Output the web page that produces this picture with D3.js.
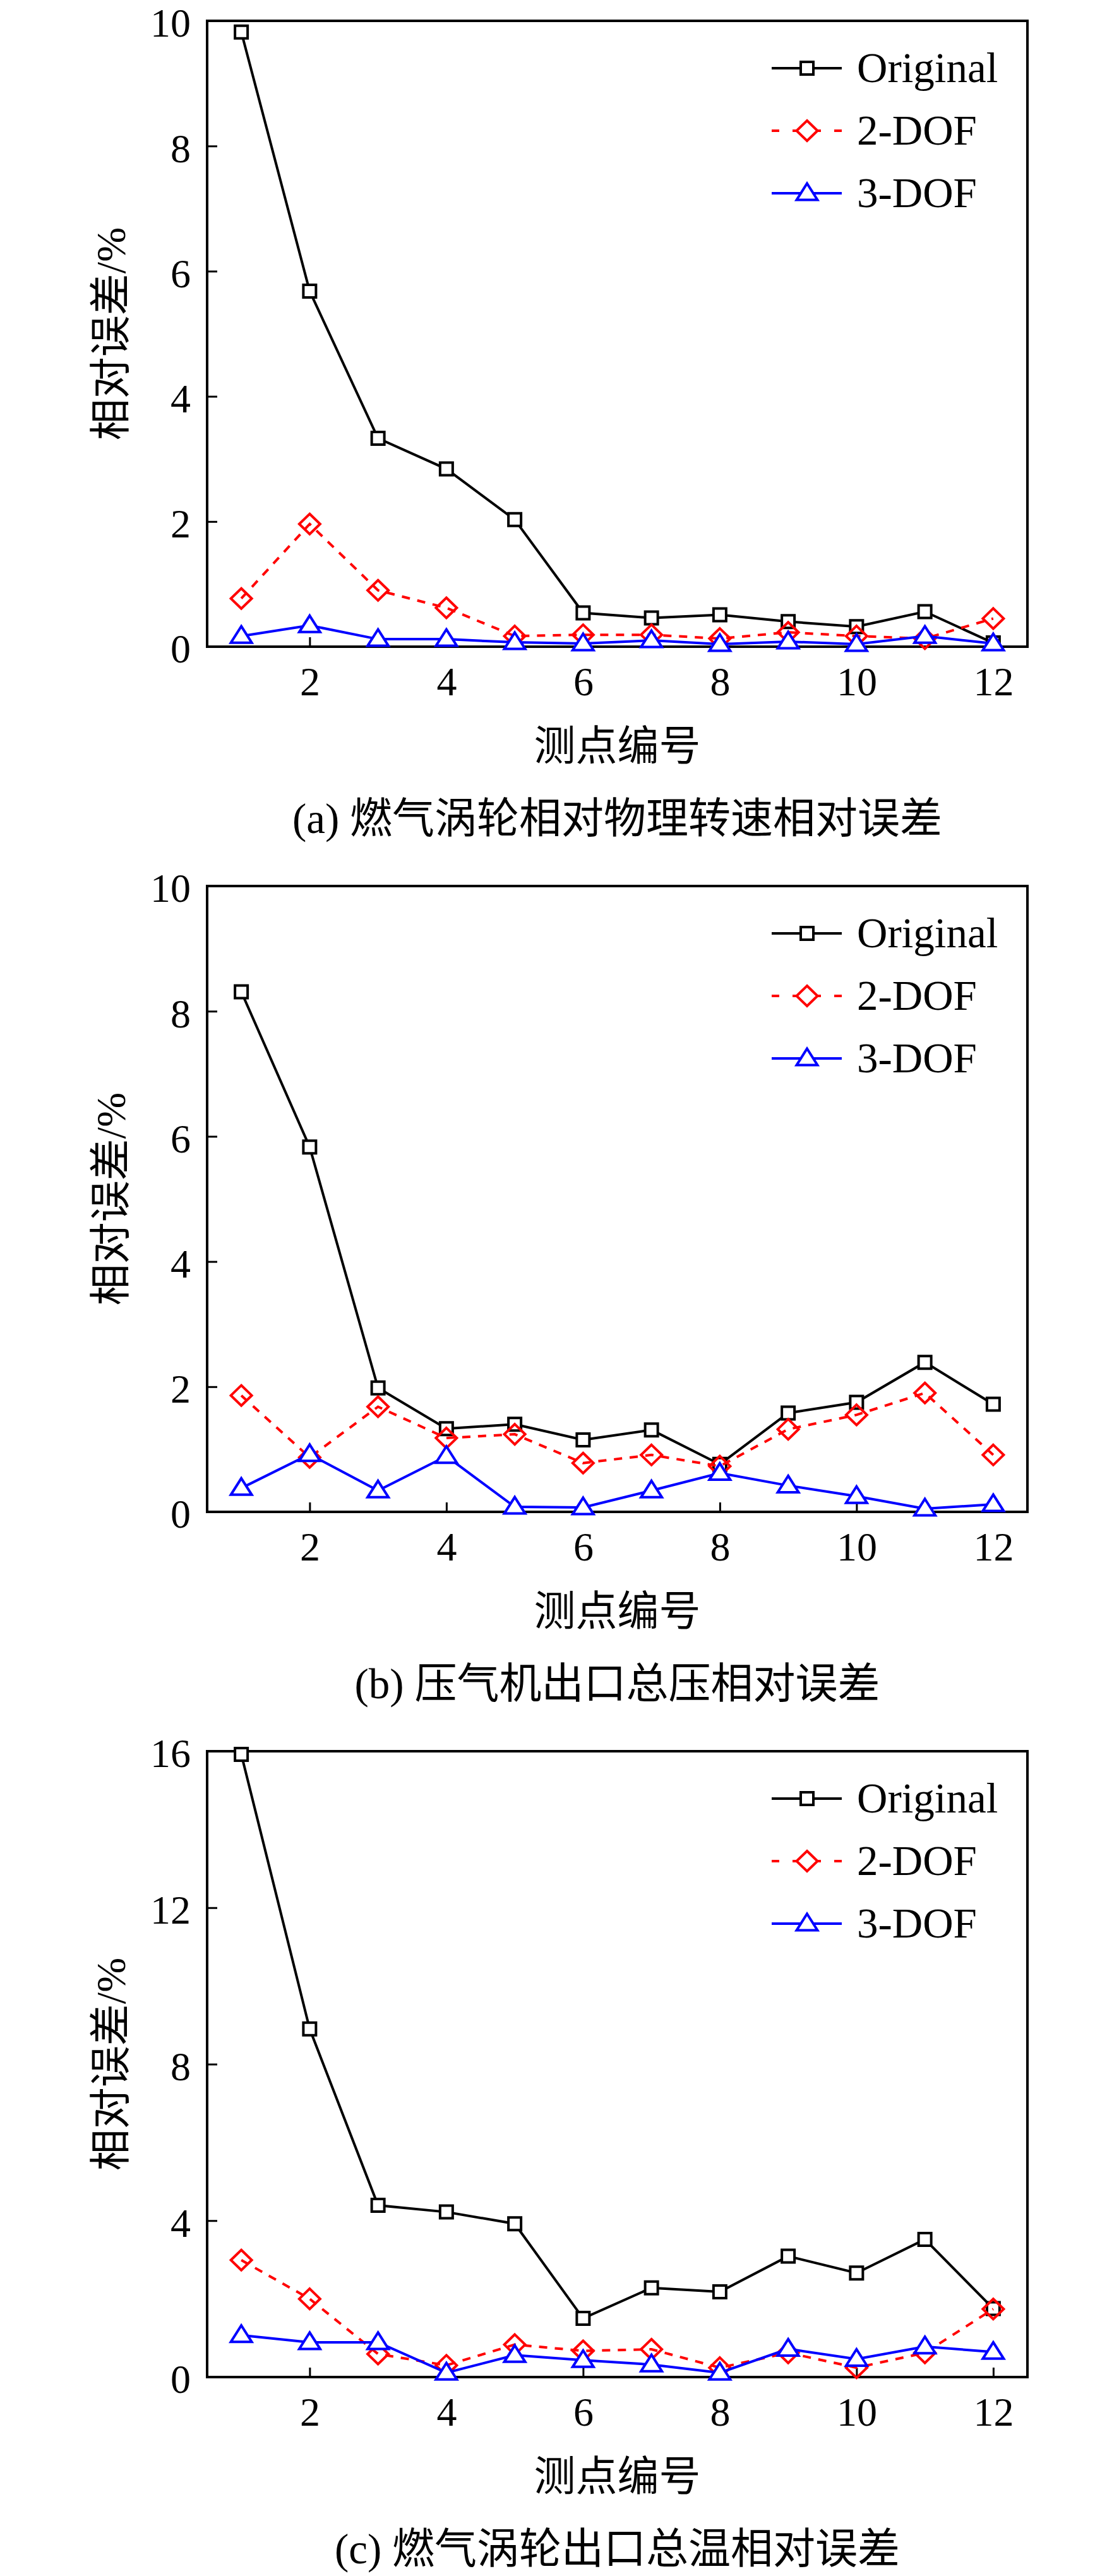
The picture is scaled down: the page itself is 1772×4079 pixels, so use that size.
<!DOCTYPE html>
<html>
<head>
<meta charset="utf-8">
<script src="https://cdn.jsdelivr.net/npm/d3@7"></script>
<style>
  body { margin: 0; background: #fff; }
  svg { display: block; }
</style>
</head>
<body>
<div id="chart"></div>
<script>
// data
const xPoints = [1, 2, 3, 4, 5, 6, 7, 8, 9, 10, 11, 12]
const xTicks = [2, 4, 6, 8, 10, 12]
const seriesNames = ['Original', '2-DOF', '3-DOF']

const origA = [9.82, 5.68, 3.33, 2.84, 2.03, 0.54, 0.46, 0.51, 0.40, 0.32, 0.56, 0.06]
const dof2A = [0.77, 1.96, 0.90, 0.62, 0.17, 0.19, 0.19, 0.13, 0.23, 0.17, 0.13, 0.45]
const dof3A = [0.17, 0.34, 0.12, 0.12, 0.07, 0.05, 0.10, 0.04, 0.08, 0.04, 0.17, 0.05]

const origB = [8.31, 5.83, 1.98, 1.33, 1.40, 1.15, 1.31, 0.76, 1.58, 1.75, 2.39, 1.72]
const dof2B = [1.86, 0.87, 1.68, 1.18, 1.24, 0.78, 0.91, 0.73, 1.32, 1.55, 1.90, 0.91]
const dof3B = [0.38, 0.92, 0.34, 0.89, 0.08, 0.07, 0.34, 0.62, 0.42, 0.25, 0.05, 0.12]

const origC = [15.92, 8.90, 4.39, 4.22, 3.92, 1.50, 2.28, 2.18, 3.09, 2.66, 3.52, 1.75]
const dof2C = [2.99, 2.00, 0.59, 0.30, 0.83, 0.67, 0.71, 0.24, 0.62, 0.24, 0.62, 1.74]
const dof3C = [1.07, 0.89, 0.89, 0.11, 0.56, 0.43, 0.32, 0.11, 0.72, 0.46, 0.78, 0.64]

const yTicksA = [0, 2, 4, 6, 8, 10]
const yTicksB = [0, 2, 4, 6, 8, 10]
const yTicksC = [0, 4, 8, 12, 16]

const captions = ['(a) 燃气涡轮相对物理转速相对误差', '(b) 压气机出口总压相对误差', '(c) 燃气涡轮出口总温相对误差']
const xTitle = '测点编号'
const yTitle = '相对误差/%'

const W = 1772, H = 4079
const numFont = "'Liberation Serif', 'Times New Roman', 'Noto Sans CJK SC', serif"

const svg = d3.select('#chart').append('svg')
    .attr('width', W).attr('height', H)
    .attr('viewBox', `0 0 ${W} ${H}`)

svg.append('rect').attr('width', W).attr('height', H).attr('fill', '#fff')

const panels = [
    {series: [origA, dof2A, dof3A], ticks: yTicksA, caption: captions[0]},
    {series: [origB, dof2B, dof3B], ticks: yTicksB, caption: captions[1]},
    {series: [origC, dof2C, dof3C], ticks: yTicksC, caption: captions[2]}
]

const styles = [
    {color: '#000', dash: null, marker: 'square'},
    {color: '#ff0000', dash: '13,12', marker: 'diamond'},
    {color: '#0000ff', dash: null, marker: 'triangle'}
]

function markerPath(type) {
    if (type == 'square') return 'M-10,-10H10V10H-10Z'
    if (type == 'diamond') return 'M0,-16L16.5,0L0,16L-16.5,0Z'
    return 'M0,-15.5L16.5,10.5H-16.5Z'
}

const left = 328, right = 1627, plotH = 991

panels.forEach((p, i) => {
    const top = 33 + i * 1370
    const bottom = top + plotH
    const yMax = d3.max(p.ticks)

    const x = d3.scaleLinear().domain([0.5, 12.5]).range([left, right])
    const y = d3.scaleLinear().domain([0, yMax]).range([bottom, top])

    const g = svg.append('g')

    // axes with inward ticks
    const xAxis = g.append('g')
        .attr('transform', `translate(0,${bottom})`)
        .call(d3.axisBottom(x).tickValues(xTicks).tickSizeInner(-15).tickSizeOuter(0).tickPadding(32))
    const yAxis = g.append('g')
        .attr('transform', `translate(${left},0)`)
        .call(d3.axisLeft(y).tickValues(p.ticks).tickSizeInner(-16).tickSizeOuter(0).tickPadding(26))

    ;[xAxis, yAxis].forEach(a => {
        a.select('.domain').remove()
        a.selectAll('.tick line').attr('stroke', '#000').attr('stroke-width', 3)
        a.selectAll('.tick text')
            .attr('fill', '#000')
            .style('font-family', numFont)
            .style('font-size', '64px')
    })
    xAxis.selectAll('.tick text').attr('dy', '0.71em')
    yAxis.selectAll('.tick text').attr('dy', '0.39em')

    // frame
    g.append('rect')
        .attr('x', left).attr('y', top)
        .attr('width', right - left).attr('height', plotH)
        .attr('fill', 'none').attr('stroke', '#000').attr('stroke-width', 4)

    const line = d3.line()
        .x((d, j) => x(xPoints[j]))
        .y(d => y(d))

    p.series.forEach((vals, k) => {
        const st = styles[k]
        g.append('path')
            .datum(vals)
            .attr('d', line)
            .attr('fill', 'none')
            .attr('stroke', st.color)
            .attr('stroke-width', 4)
            .attr('stroke-dasharray', st.dash)
        g.selectAll('.m' + k)
            .data(vals)
            .enter().append('path')
            .attr('class', 'm' + k)
            .attr('d', markerPath(st.marker))
            .attr('transform', (d, j) => `translate(${x(xPoints[j])},${y(d)})`)
            .attr('fill', st.marker == 'diamond' ? 'none' : '#fff')
            .attr('stroke', st.color)
            .attr('stroke-width', 4)
    })

    // legend
    const lg = g.append('g')
    seriesNames.forEach((name, k) => {
        const st = styles[k]
        const ly = top + 75 + k * 99
        lg.append('line')
            .attr('x1', 1222).attr('x2', 1333)
            .attr('y1', ly).attr('y2', ly)
            .attr('stroke', st.color).attr('stroke-width', 4)
            .attr('stroke-dasharray', st.dash ? '12,21' : null)
        lg.append('path')
            .attr('d', markerPath(st.marker))
            .attr('transform', `translate(1278,${ly})`)
            .attr('fill', '#fff')
            .attr('stroke', st.color)
            .attr('stroke-width', 4)
        lg.append('text')
            .attr('x', 1357).attr('y', ly)
            .attr('dy', '0.33em')
            .style('font-family', numFont)
            .style('font-size', '67px')
            .text(name)
    })

    // titles
    g.append('text')
        .attr('x', (left + right) / 2).attr('y', bottom + 157)
        .attr('dy', '0.35em')
        .attr('text-anchor', 'middle')
        .style('font-family', numFont)
        .style('font-size', '66px')
        .text(xTitle)

    g.append('text')
        .attr('transform', `translate(175,${(top + bottom) / 2}) rotate(-90)`)
        .attr('dy', '0.35em')
        .attr('text-anchor', 'middle')
        .style('font-family', numFont)
        .style('font-size', '66px')
        .text(yTitle)

    g.append('text')
        .attr('x', (left + right) / 2).attr('y', bottom + 272)
        .attr('dy', '0.35em')
        .attr('text-anchor', 'middle')
        .style('font-family', numFont)
        .style('font-size', '67px')
        .text(p.caption)
})
</script>
</body>
</html>
